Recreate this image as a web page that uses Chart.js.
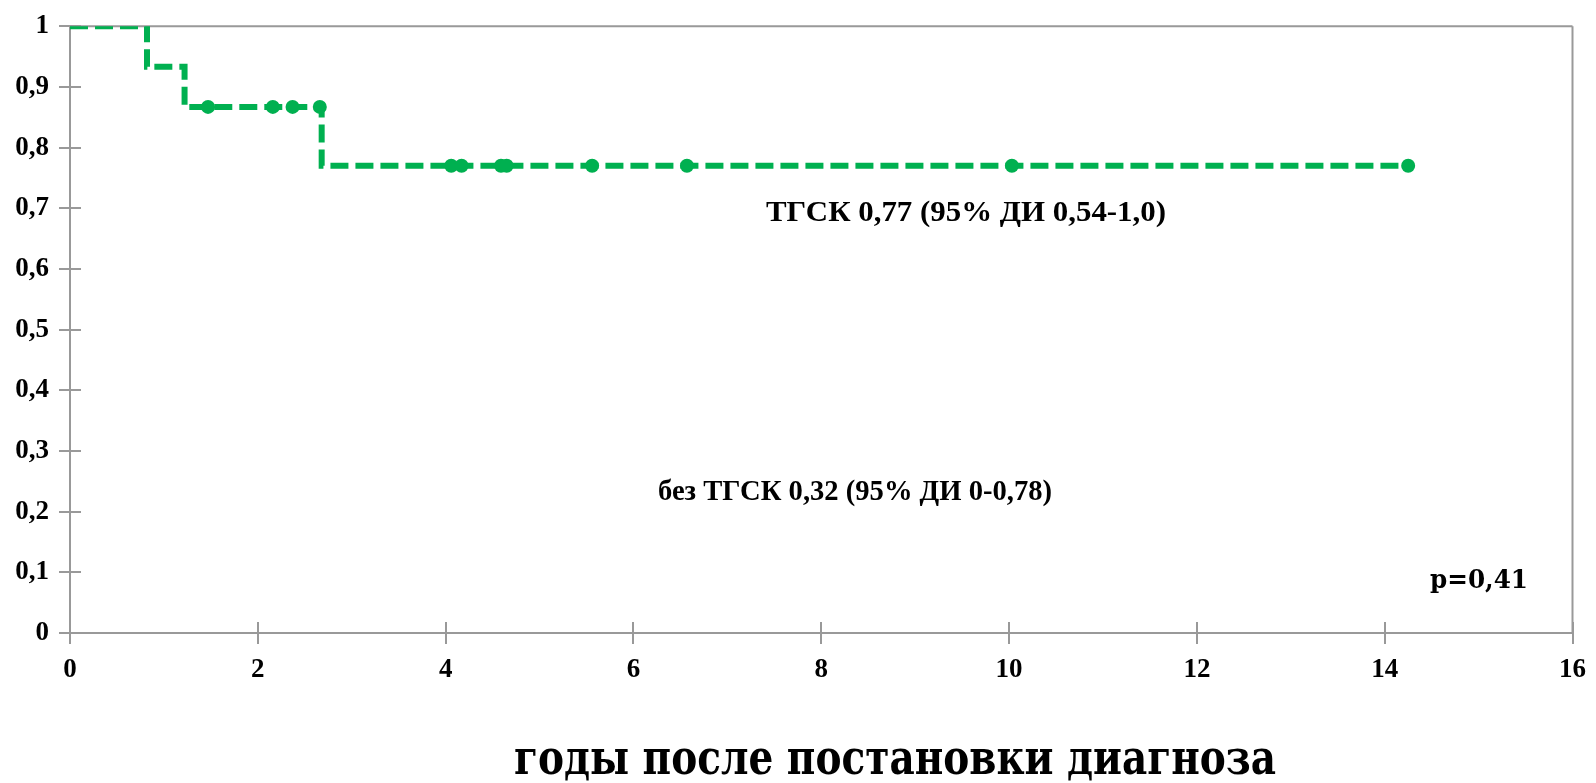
<!DOCTYPE html>
<html>
<head>
<meta charset="utf-8">
<script src="https://cdn.jsdelivr.net/npm/chart.js@4/dist/chart.umd.min.js"></script>
<style>
  html, body { margin: 0; padding: 0; background: #ffffff; }
  #wrap { width: 1596px; height: 783px; }
</style>
</head>
<body>
<div id="wrap"><canvas id="km" width="1596" height="783"></canvas></div>
<script>
// Kaplan–Meier curve: event times (years) and survival after each event
const eventTimes = [0, 0.82, 1.22, 2.68, 14.25];
const survival   = [1, 0.933, 0.867, 0.77, 0.77];

// Censored observations (years) and the survival level at each
const censorTimes  = [1.47, 2.16, 2.37, 2.66, 4.06, 4.17, 4.59, 4.65, 5.56, 6.57, 10.03, 14.25];
const censorLevels = [0.867, 0.867, 0.867, 0.867, 0.77, 0.77, 0.77, 0.77, 0.77, 0.77, 0.77, 0.77];

// Axis ticks
const xTicks = [0, 2, 4, 6, 8, 10, 12, 14, 16];
const yTicks = [0, 0.1, 0.2, 0.3, 0.4, 0.5, 0.6, 0.7, 0.8, 0.9, 1];

// Texts
const xTitle = 'годы после постановки диагноза';
const labelTransplant = 'ТГСК 0,77 (95% ДИ 0,54-1,0)';
const labelNoTransplant = 'без ТГСК 0,32 (95% ДИ 0-0,78)';
const pValue = 'p=0,41';

const GREEN = '#00B050';
const AXIS = '#999999';
const TICK_FONT = { family: '"Liberation Serif", "Times New Roman", serif', size: 27, weight: 'bold' };

const curveData = eventTimes.map((t, i) => ({ x: t, y: survival[i] }));
const censorData = censorTimes.map((t, i) => ({ x: t, y: censorLevels[i] }));

function fmtY(v) {
  if (Math.abs(v) < 1e-9) return '0';
  if (Math.abs(v - 1) < 1e-9) return '1';
  return v.toFixed(1).replace('.', ',');
}

// Draws centred text, scaled horizontally to a given width
function fitText(ctx, text, font, cx, baseline, width) {
  ctx.font = font;
  const w = ctx.measureText(text).width;
  const k = width / w;
  ctx.save();
  ctx.translate(cx, baseline);
  ctx.scale(k, 1);
  ctx.textAlign = 'center';
  ctx.textBaseline = 'alphabetic';
  ctx.fillText(text, 0, 0);
  ctx.restore();
}

// Frame (top/right), inward tick halves and free-standing texts
const decorations = {
  id: 'decorations',
  beforeDatasetsDraw(chart) {
    const { ctx, chartArea: a, scales: { x, y } } = chart;
    ctx.save();
    ctx.strokeStyle = AXIS;
    ctx.lineWidth = 2;
    ctx.beginPath();
    ctx.moveTo(a.left, a.top);
    ctx.lineTo(a.right, a.top);
    ctx.moveTo(a.right, a.top);
    ctx.lineTo(a.right, a.bottom);
    yTicks.forEach(v => {
      const py = Math.round(y.getPixelForValue(v));
      ctx.moveTo(a.left, py);
      ctx.lineTo(a.left + 11, py);
    });
    xTicks.forEach(v => {
      const px = Math.round(x.getPixelForValue(v));
      ctx.moveTo(px, a.bottom);
      ctx.lineTo(px, a.bottom - 11);
    });
    ctx.stroke();
    ctx.restore();
  },
  afterDraw(chart) {
    const { ctx } = chart;
    ctx.save();
    ctx.fillStyle = '#000';
    const serif = 'bold 30px "Liberation Serif", "Times New Roman", serif';
    fitText(ctx, labelTransplant, serif, 966, 221, 400);
    fitText(ctx, labelNoTransplant, serif, 855, 500, 394);
    fitText(ctx, pValue, 'bold 26px "DejaVu Serif", serif', 1479, 588, 98);
    fitText(ctx, xTitle, 'bold 48px "DejaVu Serif Condensed", "DejaVu Serif", serif', 895, 774, 762);
    ctx.restore();
  }
};

new Chart(document.getElementById('km'), {
  type: 'line',
  data: {
    datasets: [
      {
        label: 'ТГСК',
        data: curveData,
        stepped: true,
        borderColor: GREEN,
        borderWidth: 6,
        borderDash: [18, 7],
        pointRadius: 0,
        fill: false
      },
      {
        label: 'цензурированные',
        data: censorData,
        showLine: false,
        pointRadius: 7,
        pointBackgroundColor: GREEN,
        pointBorderColor: GREEN,
        pointBorderWidth: 0
      }
    ]
  },
  options: {
    responsive: false,
    animation: false,
    devicePixelRatio: 1,
    layout: { padding: { left: 0, top: 22, right: 20, bottom: 0 } },
    plugins: {
      legend: { display: false },
      tooltip: { enabled: false },
      title: { display: false }
    },
    scales: {
      x: {
        type: 'linear',
        min: 0,
        max: 16,
        afterFit(scale) { scale.height = 150; },
        afterBuildTicks(scale) { scale.ticks = xTicks.map(v => ({ value: v })); },
        ticks: { color: '#000', font: TICK_FONT, padding: 10, maxRotation: 0 },
        grid: { drawOnChartArea: false, drawTicks: true, tickLength: 11, color: AXIS, lineWidth: 2 },
        border: { display: true, color: AXIS, width: 2 }
      },
      y: {
        type: 'linear',
        min: 0,
        max: 1,
        afterFit(scale) { scale.width = 70; },
        afterBuildTicks(scale) { scale.ticks = yTicks.map(v => ({ value: v })); },
        ticks: { color: '#000', font: TICK_FONT, padding: 10, callback: v => fmtY(v) },
        grid: { drawOnChartArea: false, drawTicks: true, tickLength: 11, color: AXIS, lineWidth: 2 },
        border: { display: true, color: AXIS, width: 2 }
      }
    }
  },
  plugins: [decorations]
});
</script>
</body>
</html>
